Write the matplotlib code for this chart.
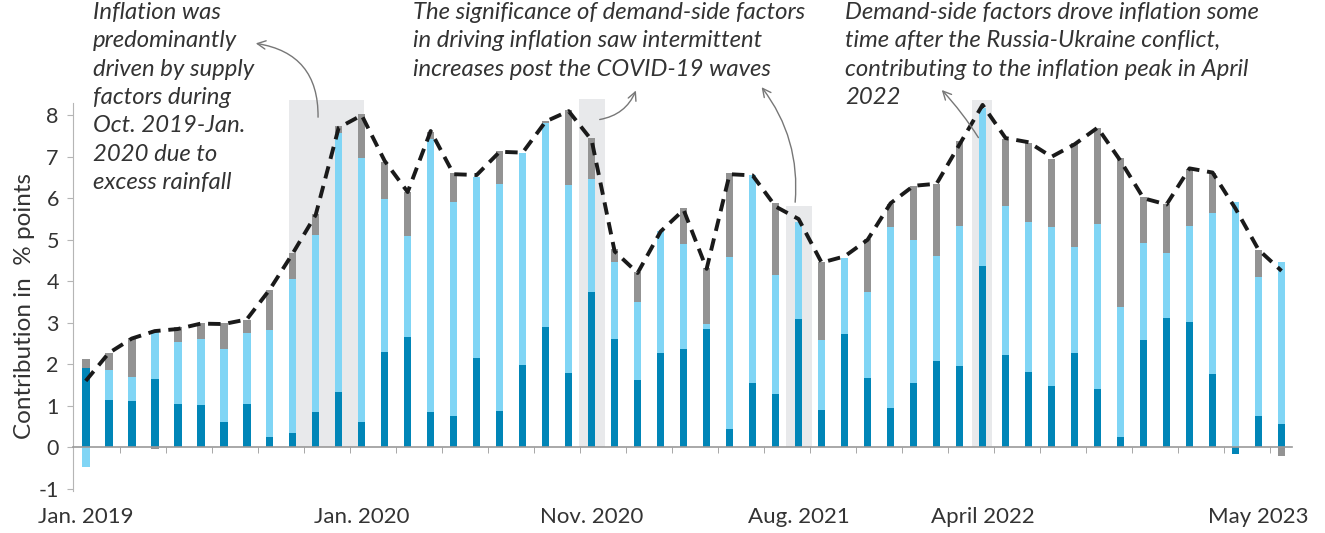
import numpy as np
import matplotlib
matplotlib.use("Agg")
import matplotlib.pyplot as plt

plt.rcParams['font.family'] = ['Lato', 'DejaVu Sans']
plt.rcParams['axes.unicode_minus'] = False

# monthly contributions, Jan. 2019 .. May 2023 (percentage points)
dark = [1.90, 1.15, 1.12, 1.65, 1.04, 1.02, 0.62, 1.04, 0.26, 0.34, 0.86, 1.34, 0.62,
        2.29, 2.65, 0.86, 0.76, 2.14, 0.88, 1.98, 2.89, 1.78, 3.73, 2.62, 1.62, 2.27,
        2.36, 2.84, 0.43, 1.56, 1.28, 3.08, 0.90, 2.72, 1.66, 0.94, 1.54, 2.09, 1.97,
        4.37, 2.22, 1.82, 1.48, 2.27, 1.41, 0.26, 2.59, 3.11, 3.03, 1.76, -0.15, 0.76, 0.56]
light = [-0.48, 0.71, 0.57, 1.18, 1.49, 1.60, 1.74, 1.71, 2.57, 3.71, 4.26, 6.24, 6.34,
         3.69, 2.44, 6.56, 5.14, 4.38, 5.46, 5.12, 4.92, 4.53, 2.74, 1.85, 1.87, 2.93,
         2.54, 0.13, 4.16, 5.00, 2.88, 2.36, 1.69, 1.83, 2.07, 4.36, 3.46, 2.52, 3.36,
         3.80, 3.60, 3.61, 3.82, 2.55, 3.96, 3.11, 2.33, 1.58, 2.31, 3.89, 5.92, 3.35, 3.90]
grey = [0.23, 0.41, 0.94, -0.05, 0.36, 0.37, 0.63, 0.32, 0.96, 0.62, 0.49, 0.15, 1.07,
        0.90, 1.07, 0.18, 0.70, 0.00, 0.80, 0.00, 0.06, 1.82, 0.98, 0.30, 0.74, 0.00,
        0.86, 1.34, 2.01, 0.00, 1.72, 0.00, 1.88, 0.00, 1.28, 0.56, 1.30, 1.74, 2.04,
        0.00, 1.61, 1.90, 1.64, 2.51, 2.32, 3.59, 1.10, 1.17, 1.36, 0.95, 0.00, 0.65, -0.21]
headline = [1.60, 2.27, 2.62, 2.80, 2.85, 2.98, 2.97, 3.08, 3.80, 4.67, 5.60, 7.70, 8.00,
            6.90, 6.15, 7.62, 6.58, 6.56, 7.12, 7.10, 7.85, 8.10, 7.40, 4.72, 4.20, 5.20,
            5.72, 4.30, 6.58, 6.55, 5.80, 5.50, 4.45, 4.60, 5.00, 5.88, 6.30, 6.35, 7.30,
            8.25, 7.45, 7.35, 7.00, 7.30, 7.70, 6.90, 6.00, 5.85, 6.72, 6.62, 5.75, 4.76, 4.25]

tick_idx = [0, 12, 22, 31, 39, 51]
tick_labels = ['Jan. 2019', 'Jan. 2020', 'Nov. 2020', 'Aug. 2021', 'April 2022', 'May 2023']

# highlighted periods (x extent in bar units, top)
shades = [(8.85, 12.1, 8.37), (21.45, 22.6, 8.4), (30.45, 31.6, 5.82), (38.55, 39.4, 8.37)]

c_dark = '#0085B7'
c_light = '#80D5F5'
c_grey = '#939393'
txt = '#333333'

fig = plt.figure(figsize=(13.25, 5.33), dpi=100)
ax = fig.add_axes([0.0549, 0.079, 0.9201, 0.7398])

x = np.arange(len(dark))

for x0, x1, top in shades:
    ax.fill_between([x0, x1], 0, top, color='#E8E9EB', zorder=0, lw=0)

pos = np.zeros(len(x))
neg = np.zeros(len(x))
for vals, col in [(dark, c_dark), (light, c_light), (grey, c_grey)]:
    v = np.array(vals)
    base = np.where(v >= 0, pos, neg)
    ax.bar(x, v, 0.33, bottom=base, color=col, zorder=2, lw=0)
    pos = pos + np.clip(v, 0, None)
    neg = neg + np.clip(v, None, 0)

ax.plot(x, headline, color='#1a1a1a', lw=2.8, ls=(0, (3.2, 2.0)), zorder=3)

ax.set_xlim(-0.565, 52.45)
ax.set_ylim(-1.05, 8.45)

for s in ['top', 'right']:
    ax.spines[s].set_visible(False)
ax.spines['left'].set_bounds(-1.05, 8.3)
ax.spines['left'].set_color('#b5b5b5')
ax.spines['bottom'].set_position(('data', 0))
ax.spines['bottom'].set_color('#999999')
ax.spines['bottom'].set_linewidth(1.2)

ax.set_yticks(range(-1, 9))
ax.tick_params(axis='y', length=4, color='#b5b5b5', labelsize=15.5, labelcolor=txt, pad=6)
ax.set_xticks(tick_idx)
ax.set_xticklabels(tick_labels)
ax.set_xticks(np.arange(1.5, 52, 2), minor=True)
ax.tick_params(axis='x', which='major', length=0, pad=43, labelsize=16, labelcolor=txt)
ax.tick_params(axis='x', which='minor', length=4, color='#999999', direction='out')

ax.set_ylabel('Contribution in  % points', fontsize=17.5, color=txt)
ax.yaxis.set_label_coords(-0.031, 0.47)

# annotations
tstyle = dict(fontsize=17.2, fontstyle='italic', color=txt, va='top', ha='left',
              linespacing=1.43)
fig.text(93 / 1325, 1 - 2 / 533,
         'Inflation was\npredominantly\ndriven by supply\nfactors during\n'
         'Oct. 2019-Jan.\n2020 due to\nexcess rainfall', **tstyle)
fig.text(413 / 1325, 1 - 2 / 533,
         'The significance of demand-side factors\nin driving inflation saw intermittent\n'
         'increases post the COVID-19 waves', **tstyle)
fig.text(845 / 1325, 1 - 2 / 533,
         'Demand-side factors drove inflation some\ntime after the Russia-Ukraine conflict,\n'
         'contributing to the inflation peak in April\n2022', **tstyle)


def px(xp, yp):
    return ((xp - 85.7) / 23.0, (447.3 - yp) / 41.5)


arrows = [((253, 43), (318, 120), 0.45),
          ((637, 88), (597, 120), 0.3),
          ((760, 85), (795, 205), 0.2),
          ((940, 88), (980, 140), 0.05)]
for head, tail, rad in arrows:
    ax.annotate('', xy=px(*head), xytext=px(*tail), annotation_clip=False,
                arrowprops=dict(arrowstyle='->,head_length=0.6,head_width=0.3',
                                color='#777777', lw=1,
                                connectionstyle='arc3,rad=%s' % rad))

fig.savefig('out.png', dpi=100)
